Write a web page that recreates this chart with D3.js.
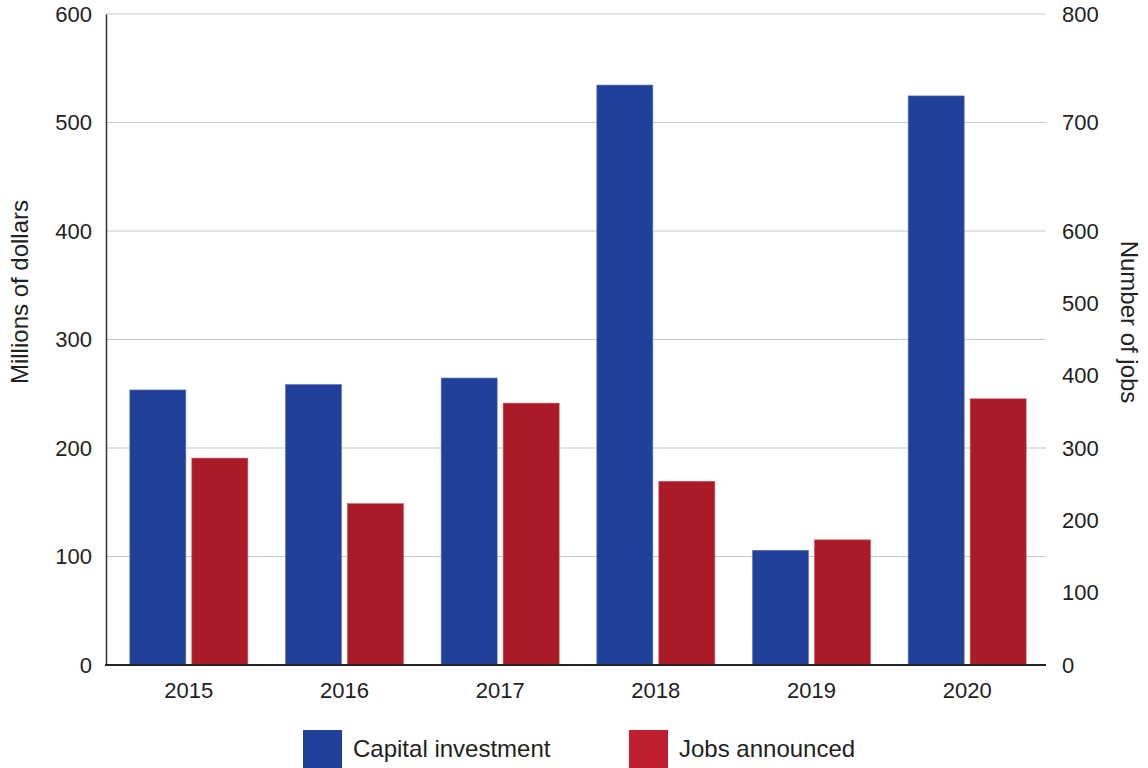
<!DOCTYPE html>
<html><head><meta charset="utf-8">
<script src="https://cdn.jsdelivr.net/npm/d3@7"></script>
<style>
html,body{margin:0;padding:0;background:#fff;}
svg{display:block;font-family:"Liberation Sans",Arial,Helvetica,sans-serif;}
</style></head>
<body>
<svg id="chart" width="1148" height="768"></svg>
<script>
const years = ["2015","2016","2017","2018","2019","2020"];
const capitalInvestment = [253.5, 258.5, 264.5, 534.5, 105.7, 524.5]; // millions of dollars
const jobsAnnounced = [286, 223, 362, 254, 173, 368]; // number of jobs
const leftTicks = [0,100,200,300,400,500,600];
const rightTicks = [0,100,200,300,400,500,600,700,800];
const seriesNames = ["Capital investment","Jobs announced"];
const barColors = ["#21409a","#ab1a27"];
const legendColors = ["#21409a","#be1e2d"];

const FONT = "Liberation Sans, Arial, sans-serif";
const svg = d3.select("#chart");
const plot = {left:106, right:1046, top:14, bottom:665};

const yL = d3.scaleLinear().domain([0,600]).range([plot.bottom, plot.top]);
// right axis as drawn in the source: 0–600 share the lower band, 600–800 the top two gridline intervals
const yR = d3.scaleLinear().domain([0,600,800]).range([plot.bottom, yL(400), yL(600)]);

const x0 = d3.scaleBand().domain(years).range([111,1045]).paddingInner(0.242).paddingOuter(0.121);
const x1 = d3.scaleBand().domain(seriesNames).range([0, x0.bandwidth()]).paddingInner(6/62);

// gridlines
svg.append("g").selectAll("line").data(leftTicks.filter(d=>d>0)).join("line")
  .attr("x1",plot.left).attr("x2",plot.right)
  .attr("y1",d=>yL(d)).attr("y2",d=>yL(d))
  .attr("stroke","#c9c9c9").attr("stroke-width",1.2);

// bars
const g = svg.append("g");
years.forEach((yr,i)=>{
  g.append("rect")
    .attr("x",x0(yr)+x1(seriesNames[0])).attr("width",x1.bandwidth())
    .attr("y",yL(capitalInvestment[i])).attr("height",plot.bottom-yL(capitalInvestment[i]))
    .attr("fill",barColors[0]).attr("stroke","#5b72b8").attr("stroke-width",0.6);
  g.append("rect")
    .attr("x",x0(yr)+x1(seriesNames[1])).attr("width",x1.bandwidth())
    .attr("y",yR(jobsAnnounced[i])).attr("height",plot.bottom-yR(jobsAnnounced[i]))
    .attr("fill",barColors[1]).attr("stroke","#c4545e").attr("stroke-width",0.6);
});

// left axis
const axL = svg.append("g").attr("transform",`translate(${plot.left},0)`)
  .call(d3.axisLeft(yL).tickValues(leftTicks).tickSize(0).tickPadding(14));
axL.select(".domain").attr("stroke","#333").attr("stroke-width",1.5);
axL.selectAll("text").attr("font-size",22).attr("fill","#222").attr("font-family",FONT);

// right axis (labels only)
const axR = svg.append("g").attr("transform",`translate(${plot.right},0)`)
  .call(d3.axisRight(yR).tickValues(rightTicks).tickSize(0).tickPadding(16));
axR.select(".domain").remove();
axR.selectAll("text").attr("font-size",22).attr("fill","#222").attr("font-family",FONT);

// x axis
const axB = svg.append("g").attr("transform",`translate(0,${plot.bottom})`)
  .call(d3.axisBottom(x0).tickSize(0).tickPadding(17));
axB.select(".domain").remove();
axB.selectAll("text").attr("font-size",22).attr("fill","#222").attr("font-family",FONT);
svg.append("line").attr("x1",plot.left-1).attr("x2",plot.right)
  .attr("y1",plot.bottom).attr("y2",plot.bottom)
  .attr("stroke","#222").attr("stroke-width",2);

// axis titles
svg.append("text").attr("transform","translate(28,292) rotate(-90)")
  .attr("text-anchor","middle").attr("font-size",24).attr("fill","#222").text("Millions of dollars");
svg.append("text").attr("transform","translate(1121,322) rotate(90)")
  .attr("text-anchor","middle").attr("font-size",24).attr("fill","#222").text("Number of jobs");

// legend
const legX = [303, 629];
seriesNames.forEach((s,i)=>{
  svg.append("rect").attr("x",legX[i]).attr("y",730).attr("width",39).attr("height",40).attr("fill",legendColors[i]);
  svg.append("text").attr("x",legX[i]+50).attr("y",757).attr("font-size",24).attr("fill","#222").text(s);
});
</script>
</body></html>
